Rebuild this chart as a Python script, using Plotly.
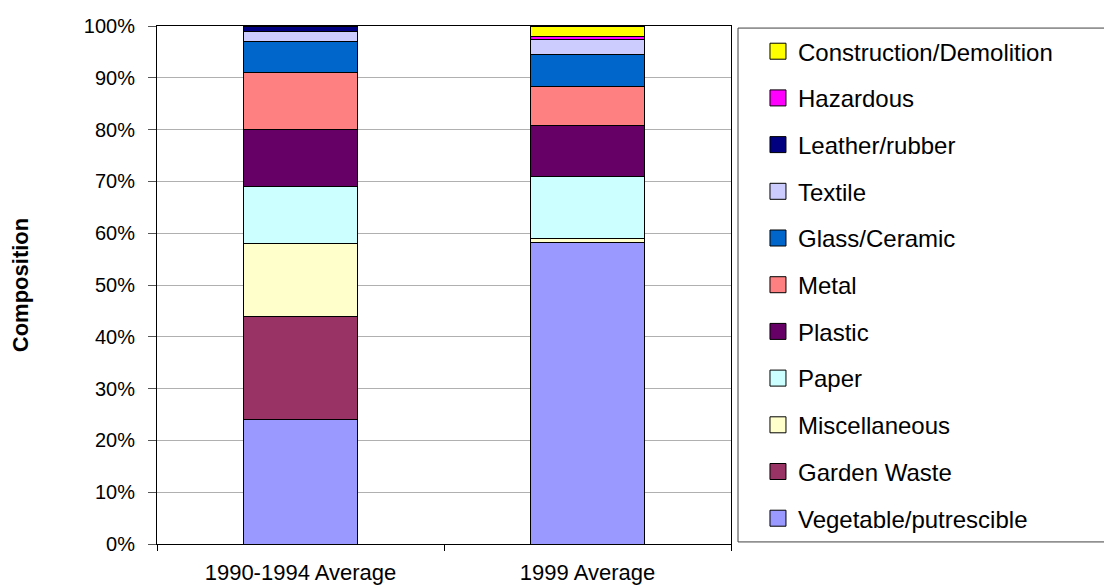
import plotly.graph_objects as go

periods = ["1990-1994 Average", "1999 Average"]

# waste composition, percent of total (bottom to top)
vegetable = [24.0, 58.2]
garden = [20.0, 0.0]
miscellaneous = [14.0, 0.7]
paper = [11.0, 12.1]
plastic = [11.0, 9.8]
metal = [11.0, 7.5]
glass = [6.0, 6.2]
textile = [2.0, 2.8]
leather = [1.0, 0.0]
hazardous = [0.0, 0.7]
construction = [0.0, 2.0]

series = [
    ("Vegetable/putrescible", vegetable, "#9999FF"),
    ("Garden Waste", garden, "#993366"),
    ("Miscellaneous", miscellaneous, "#FFFFCC"),
    ("Paper", paper, "#CCFFFF"),
    ("Plastic", plastic, "#660066"),
    ("Metal", metal, "#FF8080"),
    ("Glass/Ceramic", glass, "#0066CC"),
    ("Textile", textile, "#CCCCFF"),
    ("Leather/rubber", leather, "#000080"),
    ("Hazardous", hazardous, "#FF00FF"),
    ("Construction/Demolition", construction, "#FFFF00"),
]

fig = go.Figure()
for name, vals, color in series:
    fig.add_trace(
        go.Bar(
            x=periods,
            y=[v / 100 for v in vals],
            name=name,
            showlegend=False,
            marker=dict(color=color, line=dict(color="black", width=1)),
        )
    )

# legend entries with bigger square swatches, top entry = top of stack
for name, vals, color in reversed(series):
    fig.add_trace(
        go.Scatter(
            x=[None],
            y=[None],
            mode="markers",
            name=name,
            legendgroup=name,
            marker=dict(symbol="square", size=16, color=color,
                        line=dict(color="black", width=1)),
        )
    )

font = "Liberation Sans, Arial, sans-serif"

# the page puts the figure 8px in from the top-left, margins allow for that
fig.update_layout(
    width=1112,
    height=585,
    barmode="stack",
    bargap=0.6,
    plot_bgcolor="white",
    paper_bgcolor="white",
    margin=dict(l=149, r=389, t=18, b=49),
    font=dict(family=font, color="black"),
    legend=dict(
        x=1.047,
        xanchor="left",
        y=0.994,
        yanchor="top",
        traceorder="grouped",
        tracegroupgap=12.5,
        font=dict(size=24, family=font),
        bgcolor="rgba(0,0,0,0)",
        borderwidth=0,
    ),
    shapes=[
        # legend frame, runs off the right edge like the original
        dict(
            type="rect",
            xref="paper",
            yref="paper",
            x0=1.0122,
            x1=1.7,
            y0=0.004,
            y1=0.996,
            line=dict(color="#404040", width=1),
            layer="below",
        )
    ],
)

fig.update_xaxes(
    showline=True,
    linecolor="black",
    linewidth=1,
    mirror=True,
    ticks="outside",
    tickson="boundaries",
    ticklen=6,
    tickcolor="black",
    tickfont=dict(size=22),
    ticklabelstandoff=9,
    automargin=False,
)

fig.update_yaxes(
    range=[0, 1],
    tickformat=".0%",
    dtick=0.1,
    showline=True,
    linecolor="black",
    linewidth=1,
    mirror=True,
    ticks="outside",
    ticklen=8,
    tickcolor="#555555",
    showgrid=True,
    gridcolor="#b0b0b0",
    gridwidth=1,
    zeroline=False,
    tickfont=dict(size=20),
    ticklabelstandoff=9,
    title=dict(text="<b>Composition</b>", font=dict(size=22), standoff=50),
    automargin=False,
)

fig.write_html("out.html")
